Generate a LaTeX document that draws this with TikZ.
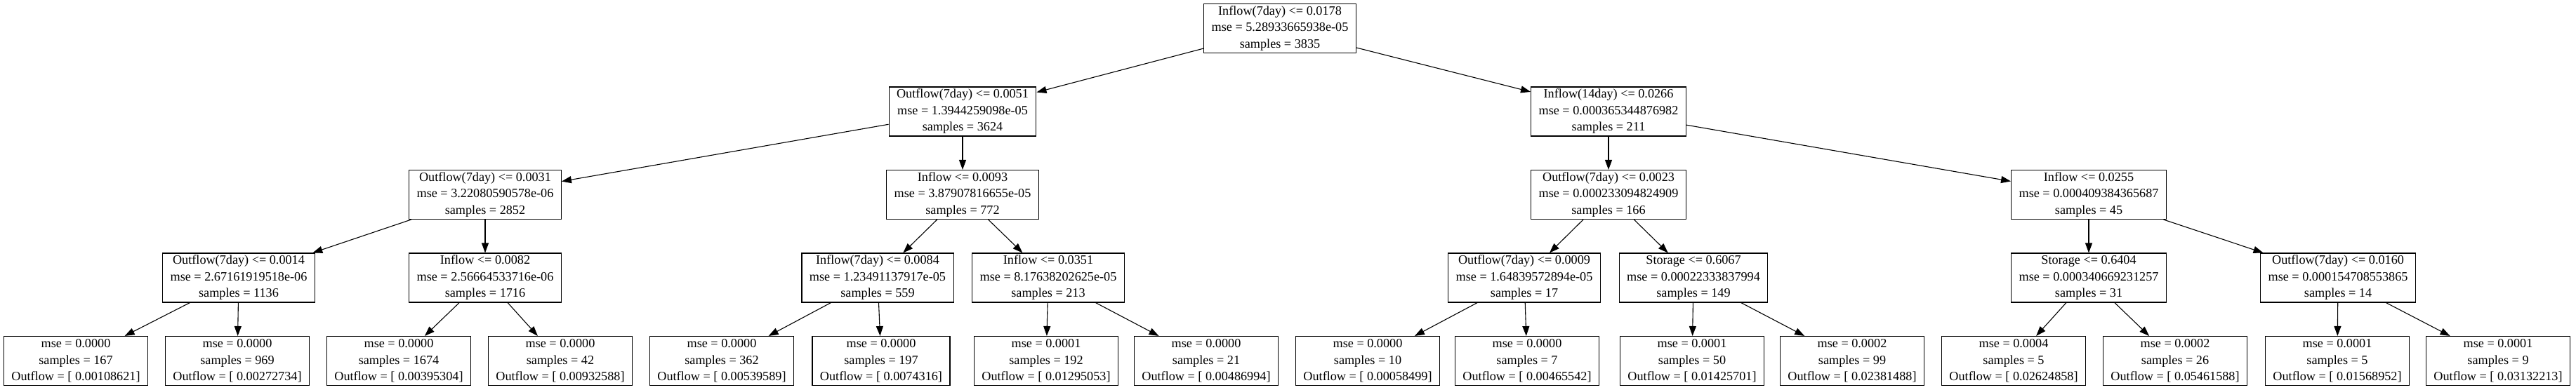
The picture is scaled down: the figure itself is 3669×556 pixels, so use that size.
\documentclass[tikz,border=0pt]{standalone}
\usepackage{fontspec}
\setmainfont{Liberation Serif}
\usetikzlibrary{arrows.meta}
\begin{document}
\begin{tikzpicture}[x=1pt,y=-1pt,
  tn/.style={draw=black,line width=1.1pt,fill=white,align=center,inner xsep=11pt,inner ysep=3pt,
    minimum height=70pt,font=\fontsize{18.2}{23.5}\selectfont},
  ed/.style={line width=1.1pt,-{Triangle[length=14pt,width=10pt]}}]
\useasboundingbox (0,0) rectangle (3669,556);
\fill[white] (0,0) rectangle (3669,556);
% root
\node[tn] (r) at (1823,40.5) {Inflow(7day) <= 0.0178\\mse = 5.28933665938e-05\\samples = 3835};
% level 1
\node[tn] (a) at (1371,159) {Outflow(7day) <= 0.0051\\mse = 1.3944259098e-05\\samples = 3624};
\node[tn] (b) at (2291,159) {Inflow(14day) <= 0.0266\\mse = 0.000365344876982\\samples = 211};
% level 2
\node[tn] (aa) at (691,277.5) {Outflow(7day) <= 0.0031\\mse = 3.22080590578e-06\\samples = 2852};
\node[tn] (ab) at (1371,277.5) {Inflow <= 0.0093\\mse = 3.87907816655e-05\\samples = 772};
\node[tn] (ba) at (2291,277.5) {Outflow(7day) <= 0.0023\\mse = 0.000233094824909\\samples = 166};
\node[tn] (bb) at (2975,277.5) {Inflow <= 0.0255\\mse = 0.000409384365687\\samples = 45};
% level 3
\node[tn] (aaa) at (340,396) {Outflow(7day) <= 0.0014\\mse = 2.67161919518e-06\\samples = 1136};
\node[tn] (aab) at (691,396) {Inflow <= 0.0082\\mse = 2.56664533716e-06\\samples = 1716};
\node[tn] (aba) at (1250,396) {Inflow(7day) <= 0.0084\\mse = 1.23491137917e-05\\samples = 559};
\node[tn] (abb) at (1493,396) {Inflow <= 0.0351\\mse = 8.17638202625e-05\\samples = 213};
\node[tn] (baa) at (2171,396) {Outflow(7day) <= 0.0009\\mse = 1.64839572894e-05\\samples = 17};
\node[tn] (bab) at (2412,396) {Storage <= 0.6067\\mse = 0.00022333837994\\samples = 149};
\node[tn] (bba) at (2975,396) {Storage <= 0.6404\\mse = 0.000340669231257\\samples = 31};
\node[tn] (bbb) at (3330,396) {Outflow(7day) <= 0.0160\\mse = 0.000154708553865\\samples = 14};
% leaves
\node[tn] (l1) at (108,514.5) {mse = 0.0000\\samples = 167\\Outflow = [ 0.00108621]};
\node[tn] (l2) at (338,514.5) {mse = 0.0000\\samples = 969\\Outflow = [ 0.00272734]};
\node[tn] (l3) at (568,514.5) {mse = 0.0000\\samples = 1674\\Outflow = [ 0.00395304]};
\node[tn] (l4) at (798,514.5) {mse = 0.0000\\samples = 42\\Outflow = [ 0.00932588]};
\node[tn] (l5) at (1028,514.5) {mse = 0.0000\\samples = 362\\Outflow = [ 0.00539589]};
\node[tn] (l6) at (1255,514.5) {mse = 0.0000\\samples = 197\\Outflow = [ 0.0074316]};
\node[tn] (l7) at (1490,514.5) {mse = 0.0001\\samples = 192\\Outflow = [ 0.01295053]};
\node[tn] (l8) at (1718,514.5) {mse = 0.0000\\samples = 21\\Outflow = [ 0.00486994]};
\node[tn] (l9) at (1948,514.5) {mse = 0.0000\\samples = 10\\Outflow = [ 0.00058499]};
\node[tn] (l10) at (2175,514.5) {mse = 0.0000\\samples = 7\\Outflow = [ 0.00465542]};
\node[tn] (l11) at (2410,514.5) {mse = 0.0001\\samples = 50\\Outflow = [ 0.01425701]};
\node[tn] (l12) at (2638,514.5) {mse = 0.0002\\samples = 99\\Outflow = [ 0.02381488]};
\node[tn] (l13) at (2868,514.5) {mse = 0.0004\\samples = 5\\Outflow = [ 0.02624858]};
\node[tn] (l14) at (3098,514.5) {mse = 0.0002\\samples = 26\\Outflow = [ 0.05461588]};
\node[tn] (l15) at (3329,514.5) {mse = 0.0001\\samples = 5\\Outflow = [ 0.01568952]};
\node[tn] (l16) at (3558,514.5) {mse = 0.0001\\samples = 9\\Outflow = [ 0.03132213]};
% edges
\foreach \p/\c in {r/a,r/b,a/aa,a/ab,b/ba,b/bb,aa/aaa,aa/aab,ab/aba,ab/abb,ba/baa,ba/bab,bb/bba,bb/bbb,
  aaa/l1,aaa/l2,aab/l3,aab/l4,aba/l5,aba/l6,abb/l7,abb/l8,baa/l9,baa/l10,bab/l11,bab/l12,bba/l13,bba/l14,bbb/l15,bbb/l16}
  \draw[ed] (\p) -- (\c);
\end{tikzpicture}
\end{document}
